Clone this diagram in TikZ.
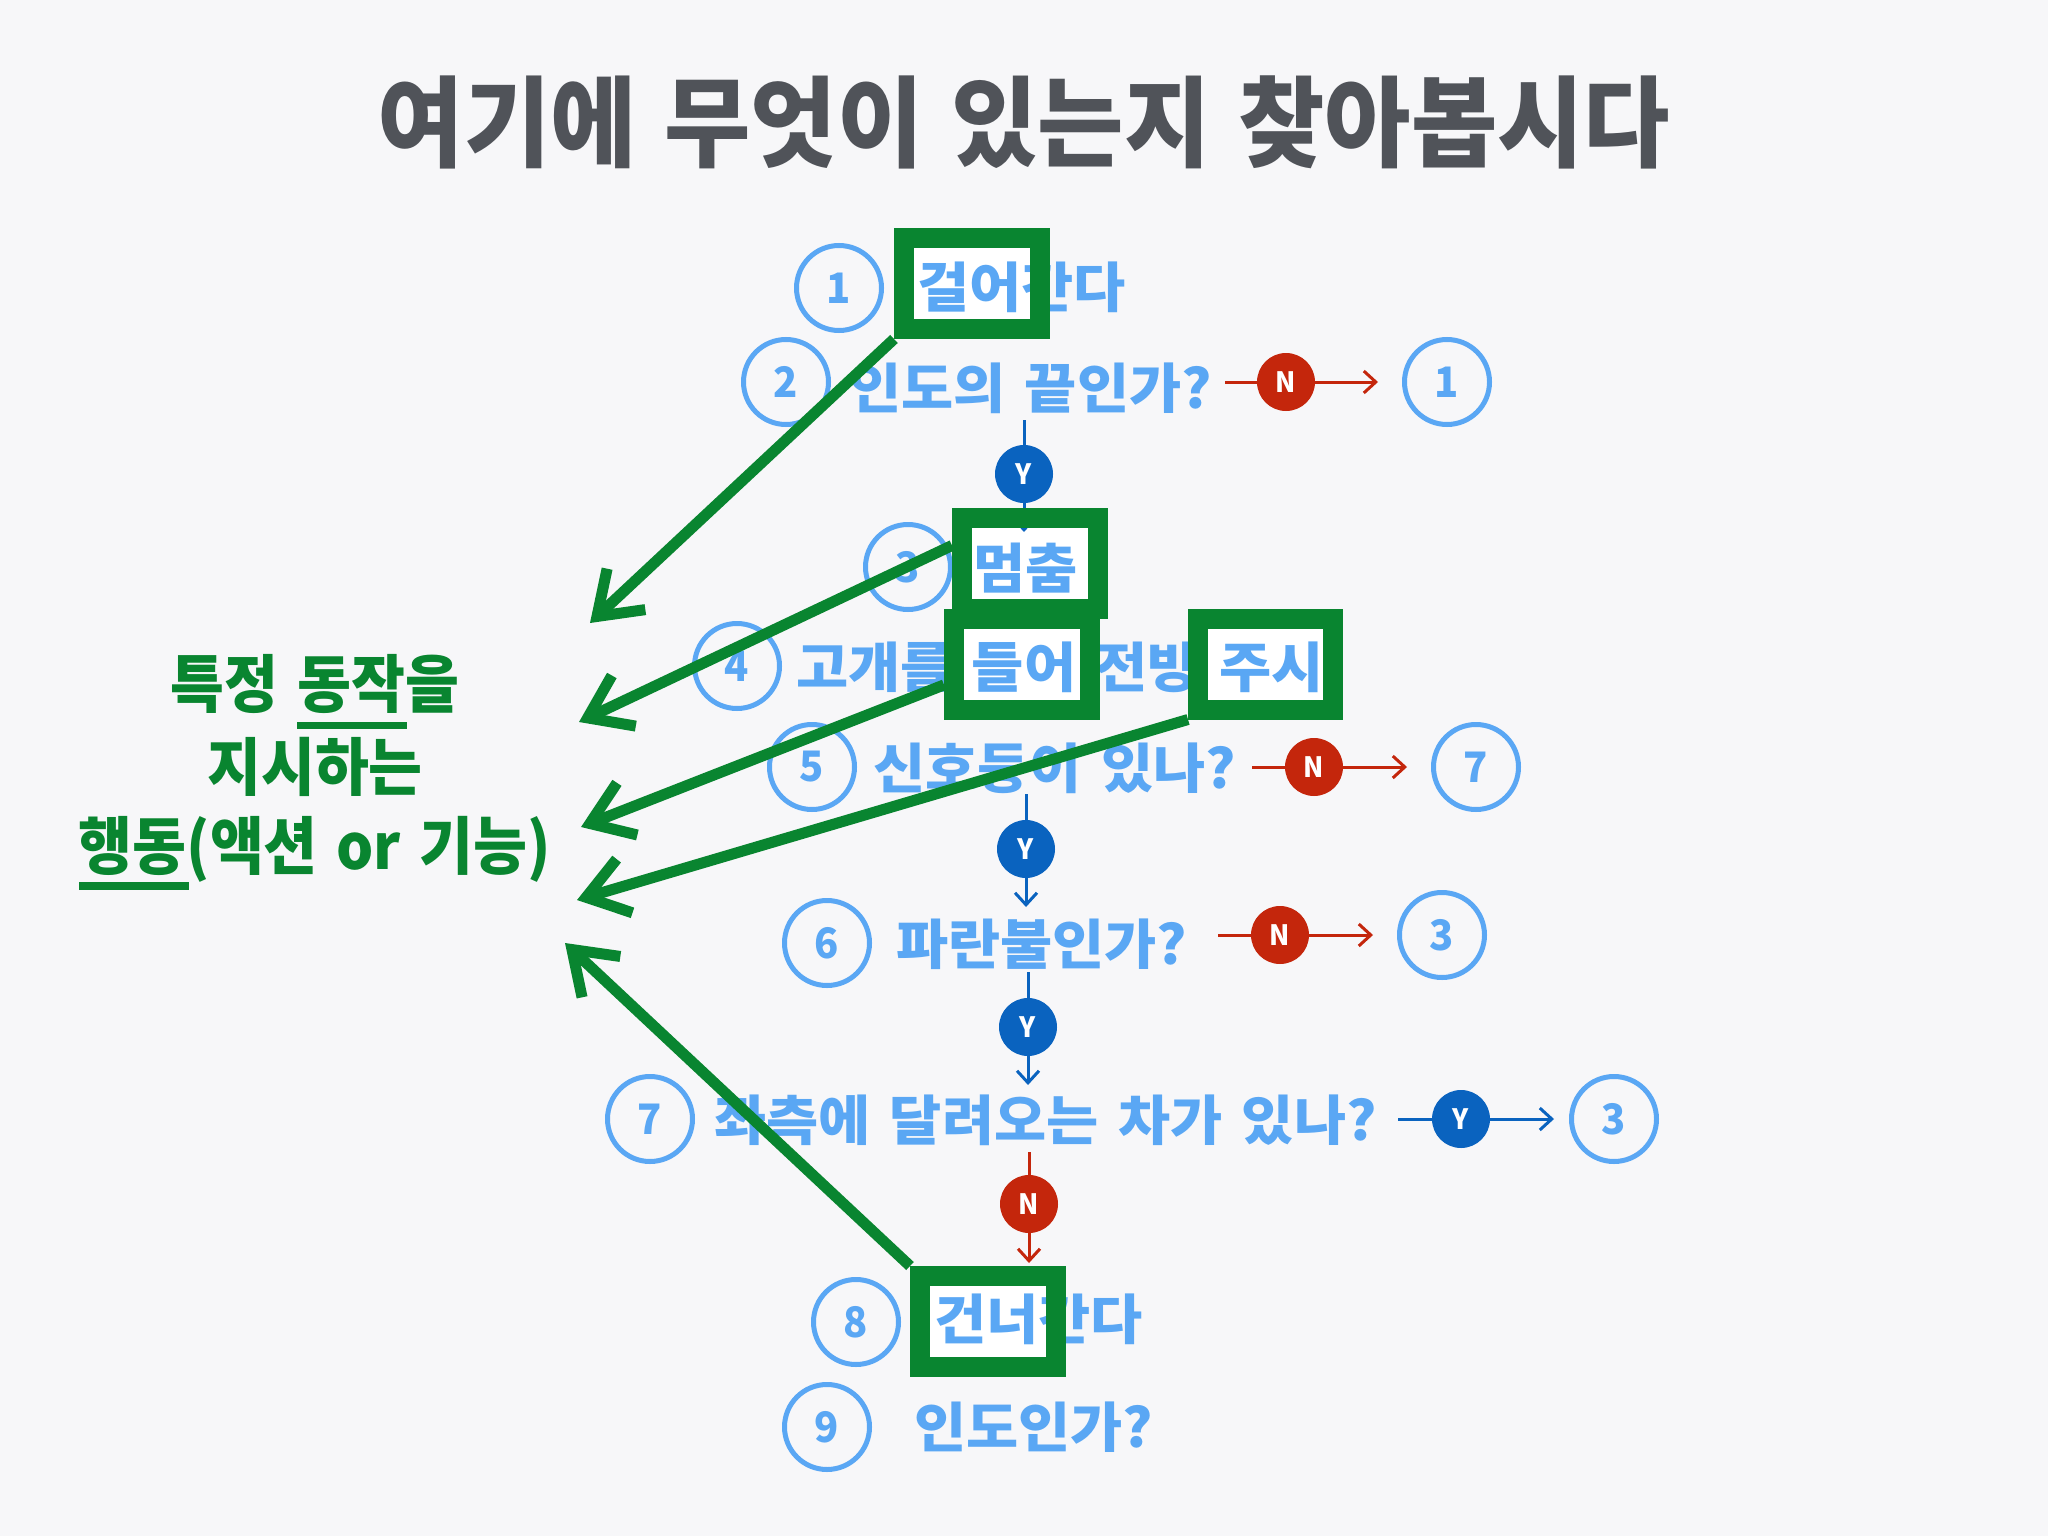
\documentclass[tikz,border=0pt]{standalone}
\usepackage{fontspec}
\usetikzlibrary{arrows.meta}
\newfontfamily\titlefont{Noto Sans CJK KR}[FakeStretch=0.948,WordSpace=1.3]
\newfontfamily\bluefont{Noto Sans CJK KR}[FakeStretch=1.05,WordSpace=1.5]
\newfontfamily\greenfont{Noto Sans CJK KR}[FakeStretch=0.93,WordSpace=1.4]
\newfontfamily\numfont{Noto Sans CJK KR}[FakeStretch=0.95]
\definecolor{bgc}{HTML}{F7F7F9}
\definecolor{titlec}{HTML}{505359}
\definecolor{lblue}{HTML}{5AA7F4}
\definecolor{dblue}{HTML}{0A63BF}
\definecolor{nred}{HTML}{C4260C}
\definecolor{gr}{HTML}{098530}
\tikzset{
  num/.style={circle, draw=lblue, line width=5pt, minimum size=85pt, inner sep=0pt, text=lblue,
    font=\numfont\bfseries\fontsize{42}{42}\selectfont},
  lbl/.style={anchor=base west, inner sep=0pt, outer sep=0pt, text=lblue,
    font=\bluefont\bfseries\fontsize{54}{54}\selectfont},
  yn/.style={circle, minimum size=58pt, inner sep=0pt, text=white,
    font=\numfont\bfseries\fontsize{28}{28}\selectfont},
  ynode/.style={yn, fill=dblue},
  nnode/.style={yn, fill=nred},
  blueconn/.style={draw=dblue, line width=3pt},
  redconn/.style={draw=nred, line width=3pt},
  tipped/.style={-{Straight Barb[length=12pt,width=22pt]}},
  boxfill/.style={rectangle, fill=white, inner sep=0pt, minimum width=#1, minimum height=91pt},
  boxline/.style={rectangle, draw=gr, line width=20pt, inner sep=0pt, minimum width=#1, minimum height=91pt},
  garrow/.style={draw=gr, line width=11pt, -{Straight Barb[length=40pt,width=56pt]}},
  gtext/.style={anchor=base, inner sep=0pt, text=gr, font=\greenfont\bfseries\fontsize{63}{63}\selectfont},
}
\begin{document}
\begin{tikzpicture}[x=1pt,y=-1pt]
\useasboundingbox (0,0) rectangle (2048,1536);
\fill[bgc] (0,0) rectangle (2048,1536);
% title
\node[anchor=base, inner sep=0pt, text=titlec, font=\titlefont\bfseries\fontsize{99}{99}\selectfont] (title) at (1024,160) {여기에 무엇이 있는지 찾아봅시다};
% box fills
\node[boxfill=136pt] (B1f) at (972,283.5) {};
\node[boxfill=136pt] (B3f) at (1030,563.5) {};
\node[boxfill=136pt] (B4af) at (1022,664) {};
\node[boxfill=135pt] (B4bf) at (1265.5,664) {};
\node[boxfill=136pt] (B8f) at (988,1321.5) {};
% numbered circles
\node[num] (c1) at (839,288) {1};
\node[num] (c2) at (786,382) {2};
\node[num] (c3) at (908,567) {3};
\node[num] (c4) at (737,666) {4};
\node[num] (c5) at (812,767) {5};
\node[num] (c6) at (827,943) {6};
\node[num] (c7) at (650,1119) {7};
\node[num] (c8) at (856,1322) {8};
\node[num] (c9) at (827,1427) {9};
\node[num] (r1) at (1447,382) {1};
\node[num] (r5) at (1476,767) {7};
\node[num] (r6) at (1442,935) {3};
\node[num] (r7) at (1614,1119) {3};
% labels
\node[lbl] (t1) at (917,307) {걸어간다};
\node[lbl] (t2) at (849,408) {인도의 끝인가?};
\node[lbl] (t3) at (973,588) {멈춤};
\node[lbl] (t4) at (796,687) {고개를 들어 전방 주시};
\node[lbl] (t5) at (873,788) {신호등이 있나?};
\node[lbl] (t6) at (896,964) {파란불인가?};
\node[lbl] (t7) at (714,1140) {좌측에 달려오는 차가 있나?};
\node[lbl] (t8) at (934,1339) {건너간다};
\node[lbl] (t9) at (914,1447) {인도인가?};
% connector coordinates
\coordinate (h2s) at (1225,382); \coordinate (h2e) at (1378,382);
\coordinate (v1s) at (1024,420); \coordinate (v1e) at (1024,532);
\coordinate (h5s) at (1252,767); \coordinate (h5e) at (1407,767);
\coordinate (v2s) at (1026,794); \coordinate (v2e) at (1026,907);
\coordinate (h6s) at (1218,935); \coordinate (h6e) at (1373,935);
\coordinate (v3s) at (1028,972); \coordinate (v3e) at (1028,1085);
\coordinate (h7s) at (1398,1119); \coordinate (h7e) at (1554,1119);
\coordinate (v4s) at (1029,1152); \coordinate (v4e) at (1029,1263);
% Y / N nodes
\node[nnode] (N2) at (1286,382) {N};
\node[ynode] (Y1) at (1024,474) {Y};
\node[nnode] (N5) at (1314,767) {N};
\node[ynode] (Y2) at (1026,849) {Y};
\node[nnode] (N6) at (1280,935) {N};
\node[ynode] (Y3) at (1028,1027) {Y};
\node[ynode] (Y7) at (1461,1119) {Y};
\node[nnode] (N4) at (1029,1204) {N};
% connectors
\draw[redconn] (h2s) -- (N2); \draw[redconn,tipped] (N2) -- (h2e);
\draw[blueconn] (v1s) -- (Y1); \draw[blueconn,tipped] (Y1) -- (v1e);
\draw[redconn] (h5s) -- (N5); \draw[redconn,tipped] (N5) -- (h5e);
\draw[blueconn] (v2s) -- (Y2); \draw[blueconn,tipped] (Y2) -- (v2e);
\draw[redconn] (h6s) -- (N6); \draw[redconn,tipped] (N6) -- (h6e);
\draw[blueconn] (v3s) -- (Y3); \draw[blueconn,tipped] (Y3) -- (v3e);
\draw[blueconn] (h7s) -- (Y7); \draw[blueconn,tipped] (Y7) -- (h7e);
\draw[redconn] (v4s) -- (N4); \draw[redconn,tipped] (N4) -- (v4e);
% green boxes
\node[boxline=136pt] (B1) at (972,283.5) {};
\node[boxline=136pt] (B3) at (1030,563.5) {};
\node[boxline=136pt] (B4a) at (1022,664) {};
\node[boxline=135pt] (B4b) at (1265.5,664) {};
\node[boxline=136pt] (B8) at (988,1321.5) {};
% green arrows
\coordinate (g1) at (590,623);
\coordinate (g2) at (579,722);
\coordinate (g3) at (581,827);
\coordinate (g4) at (577,900);
\coordinate (g5) at (565,943);
\draw[garrow] (B1.south west) -- (g1);
\draw[garrow] (B3.167) -- (g2);
\draw[garrow] (B4a.195) -- (g3);
\draw[garrow] (B4b.south west) -- (g4);
\draw[garrow] (B8.north west) -- (g5);
% green text
\node[gtext] (L1) at (315,707) {특정 동작을};
\node[gtext] (L2) at (315,790) {지시하는};
\node[gtext] (L3) at (315,869) {행동(액션 or 기능)};
\draw[gr, line width=7pt] (297,725) -- (407,725);
\draw[gr, line width=8pt] (79,886) -- (189,886);
\end{tikzpicture}
\end{document}
